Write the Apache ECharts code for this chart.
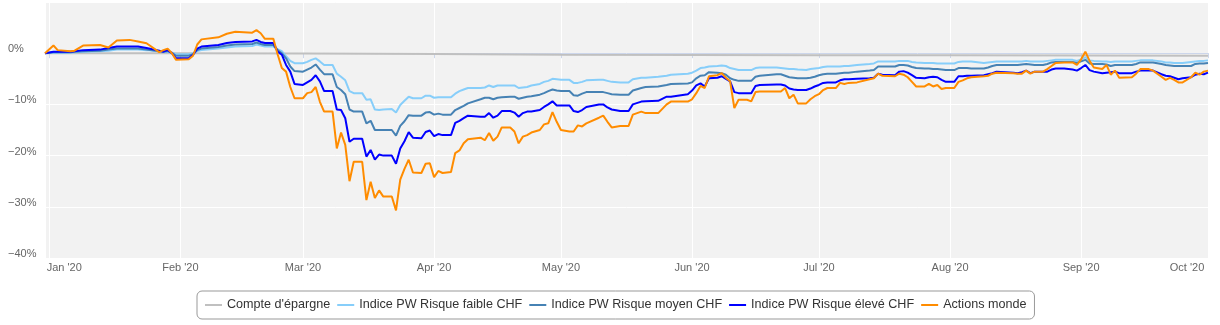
<!DOCTYPE html>
<html><head><meta charset="utf-8">
<script src="https://cdn.jsdelivr.net/npm/echarts@6/dist/echarts.min.js"></script>
<style>html,body{margin:0;padding:0;background:#fff}#c{width:1220px;height:325px}</style>
</head><body><div id="c"></div>
<script>
const dates = [
'2019-12-31','2020-01-02','2020-01-03','2020-01-06','2020-01-07','2020-01-09','2020-01-13','2020-01-15','2020-01-17','2020-01-20','2020-01-22','2020-01-24','2020-01-27','2020-01-28','2020-01-29','2020-01-30','2020-01-31',
'2020-02-03','2020-02-04','2020-02-05','2020-02-06','2020-02-10','2020-02-12','2020-02-14','2020-02-18','2020-02-19','2020-02-20','2020-02-21','2020-02-23','2020-02-24','2020-02-25','2020-02-26','2020-02-27','2020-02-28',
'2020-03-01','2020-03-02','2020-03-03','2020-03-04','2020-03-05','2020-03-06','2020-03-08','2020-03-09','2020-03-10','2020-03-11','2020-03-12','2020-03-13','2020-03-15','2020-03-16','2020-03-17','2020-03-18','2020-03-19','2020-03-20','2020-03-22','2020-03-23','2020-03-24','2020-03-25','2020-03-26','2020-03-27','2020-03-29','2020-03-30','2020-03-31',
'2020-04-01','2020-04-02','2020-04-03','2020-04-05','2020-04-06','2020-04-07','2020-04-08','2020-04-09','2020-04-12','2020-04-13','2020-04-14','2020-04-15','2020-04-16','2020-04-17','2020-04-19','2020-04-20','2020-04-21','2020-04-22','2020-04-23','2020-04-24','2020-04-26','2020-04-27','2020-04-28','2020-04-29','2020-04-30',
'2020-05-01','2020-05-03','2020-05-04','2020-05-05','2020-05-06','2020-05-07','2020-05-10','2020-05-11','2020-05-12','2020-05-13','2020-05-15','2020-05-17','2020-05-18','2020-05-20','2020-05-21','2020-05-24','2020-05-26','2020-05-27','2020-05-31',
'2020-06-01','2020-06-02','2020-06-03','2020-06-04','2020-06-05','2020-06-07','2020-06-08','2020-06-09','2020-06-10','2020-06-11','2020-06-12','2020-06-14','2020-06-15','2020-06-16','2020-06-17','2020-06-21','2020-06-22','2020-06-23','2020-06-24','2020-06-25','2020-06-26','2020-06-28','2020-06-29','2020-06-30',
'2020-07-01','2020-07-02','2020-07-03','2020-07-05','2020-07-06','2020-07-07','2020-07-08','2020-07-10','2020-07-13','2020-07-14','2020-07-15','2020-07-16','2020-07-19','2020-07-20','2020-07-21','2020-07-22','2020-07-23','2020-07-24','2020-07-26','2020-07-27','2020-07-28','2020-07-29','2020-07-30','2020-07-31',
'2020-08-02','2020-08-03','2020-08-04','2020-08-05','2020-08-06','2020-08-09','2020-08-10','2020-08-11','2020-08-12','2020-08-16','2020-08-17','2020-08-18','2020-08-19','2020-08-20','2020-08-21','2020-08-23','2020-08-24','2020-08-25','2020-08-26','2020-08-28','2020-08-30','2020-08-31',
'2020-09-01','2020-09-02','2020-09-03','2020-09-04','2020-09-06','2020-09-07','2020-09-08','2020-09-09','2020-09-10','2020-09-13','2020-09-14','2020-09-15','2020-09-17','2020-09-18','2020-09-20','2020-09-21','2020-09-22','2020-09-23','2020-09-24','2020-09-25','2020-09-27','2020-09-28','2020-09-29','2020-09-30',
'2020-10-01'
];

const savingsDates = ['2019-12-31','2020-02-01','2020-03-01','2020-04-01','2020-05-01','2020-06-01','2020-07-01','2020-08-01','2020-09-01','2020-10-01'];
const savings = [0, 0, -0.05, -0.15, -0.3, -0.35, -0.4, -0.4, -0.45, -0.5];

const riskLow = [
0,0.1,0.1,0.1,0.2,0.3,0.4,0.5,0.7,0.7,0.7,0.6,0.4,0.3,0.3,0.1,-0.2,
-0.2,0.0,0.4,0.6,0.9,1.1,1.3,1.4,1.7,1.5,1.3,1.3,0.8,0.4,-0.6,-1.5,-1.95,
-1.95,-1.7,-1.3,-1.0,-1.6,-2.3,-2.3,-4.0,-4.6,-5.3,-7.4,-7.8,-7.8,-9.1,-9.0,-11.0,-11.1,-11.0,-10.9,-11.6,-10.1,-9.3,-8.5,-8.8,-8.8,-8.3,-8.3,
-8.7,-8.6,-8.6,-8.6,-7.9,-7.4,-7.1,-6.8,-6.8,-6.7,-6.3,-6.6,-6.3,-6.3,-6.3,-6.3,-6.8,-6.7,-6.6,-6.3,-6.0,-5.6,-5.4,-5.0,-5.1,
-5.2,-5.2,-5.8,-5.8,-5.6,-5.3,-5.2,-5.2,-5.4,-5.6,-5.7,-5.7,-5.1,-4.8,-4.8,-4.6,-4.4,-4.2,-4.0,
-3.8,-3.4,-2.9,-2.8,-2.6,-2.5,-2.4,-2.5,-2.9,-3.1,-3.3,-3.3,-3.3,-2.9,-2.8,-2.8,-2.9,-3.0,-3.1,-3.1,-3.2,-3.3,-3.1,-3.0,
-2.9,-2.7,-2.6,-2.6,-2.6,-2.5,-2.5,-2.3,-2.1,-2.0,-1.6,-1.6,-1.6,-1.5,-1.5,-1.5,-1.7,-1.8,-1.9,-1.9,-1.9,-2.0,-2.0,-2.0,
-2.0,-1.7,-1.6,-1.6,-1.6,-1.9,-1.8,-1.7,-1.6,-1.6,-1.6,-1.6,-1.5,-1.6,-1.6,-1.6,-1.5,-1.4,-1.3,-1.3,-1.3,-1.5,
-1.2,-0.8,-1.4,-1.5,-1.6,-1.6,-1.7,-1.6,-1.6,-1.6,-1.5,-1.4,-1.4,-1.4,-1.6,-1.8,-1.8,-1.9,-1.9,-1.9,-1.7,-1.6,-1.5,-1.5,
-1.4
];

const riskMid = [
0,0.2,0.2,0.2,0.3,0.4,0.5,0.7,0.9,0.9,0.9,0.7,0.4,0.3,0.4,0.1,-0.5,
-0.5,-0.2,0.6,0.9,1.2,1.5,1.7,1.8,2.1,1.8,1.6,1.6,0.6,0.0,-1.0,-2.6,-3.5,
-3.6,-3.2,-2.8,-2.2,-3.2,-4.1,-4.1,-6.6,-7.2,-8.0,-11.0,-11.4,-11.4,-13.7,-13.2,-15.0,-15.0,-15.0,-15.0,-16.1,-14.2,-13.3,-12.1,-12.2,-12.2,-11.6,-11.5,
-12.0,-11.8,-12.0,-12.0,-11.1,-10.7,-10.3,-9.8,-9.0,-8.7,-8.7,-9.0,-8.7,-8.6,-8.5,-8.5,-8.9,-8.7,-8.5,-8.4,-8.1,-7.8,-7.4,-7.1,-7.3,
-7.4,-7.4,-8.2,-8.3,-7.9,-7.6,-7.6,-7.6,-7.8,-8.0,-8.1,-8.1,-7.3,-6.8,-6.6,-6.5,-6.2,-6.0,-5.9,
-5.7,-4.9,-4.4,-4.3,-3.7,-3.8,-3.9,-4.2,-4.9,-5.2,-5.4,-5.4,-5.4,-4.6,-4.4,-4.1,-4.1,-4.4,-4.7,-4.8,-4.9,-4.9,-4.8,-4.6,
-4.3,-4.1,-4.0,-4.0,-3.9,-3.8,-3.8,-3.6,-3.4,-3.3,-2.6,-2.6,-2.6,-2.3,-2.3,-2.4,-2.7,-2.9,-3.0,-3.0,-3.1,-3.1,-3.2,-3.3,
-3.3,-2.9,-2.9,-2.9,-3.0,-3.0,-2.8,-2.5,-2.3,-2.3,-2.3,-2.2,-2.1,-2.2,-2.3,-2.3,-2.1,-1.8,-1.7,-1.7,-1.7,-1.9,
-1.6,-1.3,-2.0,-2.1,-2.1,-2.2,-2.5,-2.3,-2.3,-2.3,-2.1,-1.8,-1.8,-1.8,-2.1,-2.3,-2.4,-2.5,-2.5,-2.5,-2.5,-2.1,-2.0,-2.0,
-1.9
];

const riskHigh = [
0,0.3,0.3,0.3,0.4,0.6,0.7,1.0,1.3,1.3,1.3,1.0,0.5,0.3,0.6,0,-1.0,
-1.0,-0.3,0.9,1.3,1.6,2.0,2.2,2.3,2.6,2.2,2.0,2.0,0.3,-0.3,-2.3,-3.6,-6.0,
-6.2,-5.7,-5.2,-4.3,-5.5,-7.4,-7.4,-11.0,-11.1,-12.7,-17.3,-16.7,-16.7,-20.2,-18.9,-20.8,-19.8,-20.0,-20.0,-21.6,-18.6,-17.2,-15.4,-16.5,-16.6,-15.4,-15.1,
-16.2,-15.8,-16.0,-16.0,-13.6,-13.2,-12.7,-12.2,-12.4,-12.4,-11.7,-12.6,-12.2,-11.3,-11.3,-11.6,-12.4,-11.7,-11.4,-11.4,-11.1,-10.5,-10.0,-9.4,-10.2,
-10.2,-10.2,-11.3,-11.5,-11.1,-10.5,-10.0,-10.0,-10.6,-11.0,-11.3,-11.3,-10.0,-9.45,-9.4,-9.3,-8.5,-8.5,-8.0,
-7.3,-6.3,-5.9,-6.5,-4.9,-4.8,-4.5,-5.0,-5.5,-7.6,-7.8,-7.8,-7.8,-6.4,-6.2,-6.1,-6.1,-6.3,-6.9,-7.1,-7.2,-7.2,-6.9,-6.5,
-6.2,-5.8,-5.7,-5.7,-5.3,-5.1,-5.1,-5.0,-4.9,-4.8,-4.0,-4.2,-4.3,-3.6,-3.5,-3.8,-4.3,-4.8,-4.9,-4.7,-4.6,-4.7,-5.2,-5.6,
-5.6,-4.5,-4.5,-4.4,-4.4,-4.3,-4.1,-3.9,-3.6,-3.8,-3.9,-3.7,-3.4,-3.9,-3.6,-3.6,-3.6,-3.2,-3.0,-3.0,-3.2,-3.4,
-2.9,-2.3,-3.3,-3.6,-3.9,-3.8,-3.7,-3.6,-3.9,-3.9,-3.6,-3.4,-3.4,-3.4,-4.1,-4.4,-4.5,-4.8,-5.1,-4.9,-4.7,-4.2,-4.0,-4.1,
-3.8
];

const worldEquity = [
0,1.5,0.6,0.4,0.5,1.5,1.6,1.1,2.5,2.6,2.3,1.95,0.2,0.6,0.9,0,-1.3,
-1.2,-0.5,1.7,2.7,3.1,3.8,4.2,4.0,4.5,3.9,2.8,2.8,-0.2,-2.9,-3.6,-6.6,-8.8,
-8.8,-7.8,-7.6,-6.6,-9.5,-11.4,-11.4,-18.6,-15.5,-17.9,-25.0,-21.2,-21.2,-28.7,-25.1,-28.3,-26.8,-28.0,-28.0,-30.7,-24.7,-22.6,-20.8,-23.3,-23.4,-21.6,-21.5,
-24.2,-23.0,-23.4,-23.2,-19.5,-19.0,-17.6,-16.8,-16.5,-17.0,-15.6,-17.1,-16.3,-14.5,-14.5,-15.3,-17.6,-16.3,-16.0,-15.5,-15.0,-13.9,-13.7,-11.5,-13.4,
-15.0,-15.3,-15.3,-14.1,-14.3,-13.7,-12.6,-12.2,-13.4,-14.5,-14.2,-14.2,-12.0,-11.4,-11.7,-11.7,-10.0,-9.45,-9.45,
-9.0,-7.8,-6.4,-6.8,-4.5,-4.3,-3.9,-4.8,-5.5,-10.7,-9.1,-9.1,-9.4,-7.6,-7.5,-7.5,-7.5,-6.8,-8.8,-8.1,-9.8,-9.8,-9.0,-8.4,
-8.0,-7.2,-6.8,-6.8,-5.8,-6.0,-5.8,-5.7,-5.1,-4.9,-4.0,-4.4,-4.5,-4.0,-4.2,-4.7,-5.6,-6.5,-6.5,-6.0,-6.5,-6.2,-7.0,-6.8,
-6.8,-5.6,-5.3,-4.9,-4.7,-4.5,-4.4,-4.0,-3.8,-3.9,-4.0,-4.0,-3.4,-4.0,-3.6,-3.6,-3.1,-2.5,-1.9,-1.8,-1.8,-2.3,
-1.2,0.3,-1.5,-2.8,-3.1,-2.3,-4.2,-3.4,-4.8,-4.7,-4.0,-3.1,-3.1,-3.4,-4.6,-5.2,-4.8,-5.2,-5.7,-5.7,-4.7,-3.8,-4.2,-3.6,
-3.4
];

const seriesNames = ["Compte d'épargne", 'Indice PW Risque faible CHF', 'Indice PW Risque moyen CHF', 'Indice PW Risque élevé CHF', 'Actions monde'];
const seriesColors = ['#C0C0C0', '#87CEFA', '#4682B4', '#0000FF', '#FF8C00'];
const monthLabels = ["Jan '20", "Feb '20", "Mar '20", "Apr '20", "May '20", "Jun '20", "Jul '20", "Aug '20", "Sep '20", "Oct '20", "Nov '20", "Dec '20"];
const xStart = '2019-12-31';
const xEnd = '2020-10-01';
const yMin = -40, yMax = 10, yStep = 10;

function toTime(s) { const p = s.split('-').map(Number); return new Date(p[0], p[1] - 1, p[2]).getTime(); }
function pairs(ds, vs) { return vs.map((v, i) => [toTime(ds[i]), v]); }

const seriesData = [
  pairs(savingsDates, savings),
  pairs(dates, riskLow),
  pairs(dates, riskMid),
  pairs(dates, riskHigh),
  pairs(dates, worldEquity)
];

const FONT = '"Liberation Sans", Arial, sans-serif';
const chart = echarts.init(document.getElementById('c'), null, { renderer: 'canvas' });
chart.setOption({
  animation: false,
  textStyle: { fontFamily: FONT },
  grid: { left: 45, right: 12, top: 2, bottom: 67, show: true, backgroundColor: '#f2f2f2', borderWidth: 0 },
  legend: {
    left: 197, top: 291,
    padding: [6, 8, 6, 8],
    borderColor: '#999', borderWidth: 1, borderRadius: 5,
    itemWidth: 17, itemHeight: 2, itemGap: 7,
    icon: 'rect',
    selectedMode: false,
    textStyle: { fontSize: 12.6, lineHeight: 16, color: '#333', fontFamily: FONT },
    data: seriesNames
  },
  xAxis: {
    type: 'time',
    min: toTime(xStart), max: toTime(xEnd),
    minInterval: 28 * 86400000, maxInterval: 31 * 86400000,
    axisLine: { show: true, lineStyle: { color: '#ccd6eb', width: 1 } },
    axisTick: { show: true, length: 5, lineStyle: { color: '#ccd6eb' } },
    splitLine: { show: true, lineStyle: { color: '#ffffff', width: 1 } },
    axisLabel: {
      color: '#666', fontSize: 11, fontFamily: FONT, margin: 4,
      hideOverlap: false,
      formatter: function (val) {
        const d = new Date(val);
        if (d.getDate() !== 1) return '';
        const t = monthLabels[d.getMonth()];
        if (d.getMonth() === 0) return '{first|' + t + '}';
        if (d.getMonth() === 9) return '{last|' + t + '}';
        return t;
      },
      rich: {
        first: { color: '#666', fontSize: 11, fontFamily: FONT, padding: [0, 0, 0, 30] },
        last: { color: '#666', fontSize: 11, fontFamily: FONT, padding: [0, 42, 0, 0] }
      }
    }
  },
  yAxis: {
    type: 'value', min: yMin, max: yMax, interval: yStep,
    axisLine: { show: false }, axisTick: { show: false },
    splitLine: { show: true, lineStyle: { color: '#ffffff', width: 1 } },
    axisLabel: {
      color: '#666', fontSize: 11, lineHeight: 8, fontFamily: FONT, align: 'left', margin: 37,
      verticalAlign: 'bottom',
      formatter: function (v) {
        if (v === yMax) return '';
        return (v < 0 ? '\u2212' + Math.abs(v) : String(v)) + '%';
      }
    }
  },
  series: seriesNames.map((name, i) => ({
    name: name, type: 'line', data: seriesData[i],
    showSymbol: false, symbol: 'none',
    itemStyle: { color: seriesColors[i] },
    lineStyle: { color: seriesColors[i], width: 2 },
    emphasis: { disabled: true },
    z: 2 + i
  }))
});
</script>
</body></html>
